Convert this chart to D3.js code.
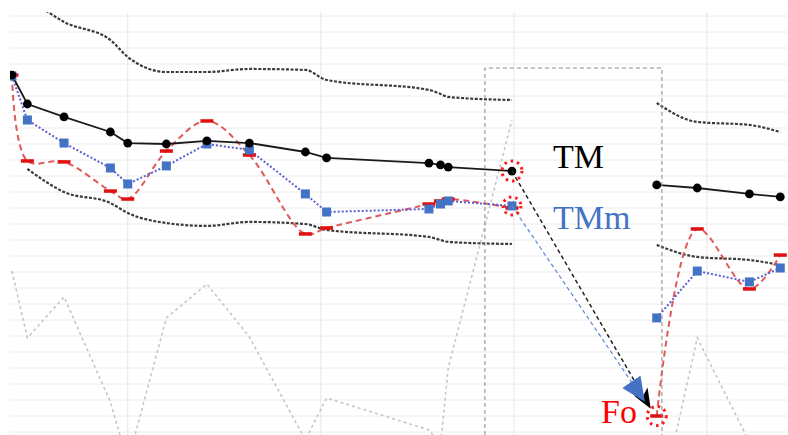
<!DOCTYPE html>
<html>
<head>
<meta charset="utf-8">
<script src="https://cdn.jsdelivr.net/npm/d3@7"></script>
<style>
  body { margin: 0; background: #fff; }
  svg { display: block; }
  .label { font-family: "Liberation Serif", "DejaVu Serif", serif; font-size: 34px; }
</style>
</head>
<body>
<script>

// x positions of the samples (gap between index 13 and 14)
var xVals = [4.0, 4.8, 6.7, 9.1, 10.0, 12.0, 14.1, 16.3, 19.2, 20.3, 25.6, 26.2, 26.6, 29.9, 37.4, 39.5, 42.2, 43.8];

// series values
var tm     = [22.31, 20.5, 19.69, 18.75, 18.06, 18.0, 18.19, 18.06, 17.5, 17.13, 16.81, 16.69, 16.56, 16.31, 15.44, 15.25, 14.88, 14.69];
var tmm    = [22.25, 19.5, 18.06, 16.5, 15.5, 16.63, 18.0, 17.63, 14.88, 13.75, 13.94, 14.25, 14.44, 14.13, 7.13, 10.06, 9.38, 10.25];
var fo     = [22.31, 16.94, 16.88, 15.06, 14.56, 17.56, 19.44, 17.31, 12.38, 12.75, 14.25, 14.44, 14.56, 14.0, 1.0, 12.69, 8.94, 11.06];
var upper  = [null, 27.19, 25.63, 24.5, 23.44, 22.5, 22.5, 22.69, 22.63, 22.0, 21.38, 21.13, 20.94, 20.75, 20.56, 19.38, 19.19, 18.75];
var lower  = [null, 16.44, 15.0, 14.31, 13.69, 13.06, 12.88, 13.13, 13.0, 12.63, 12.19, 12.0, 11.88, 11.75, 11.69, 10.94, 10.75, 10.44];
var faint  = [10.06, 5.88, 8.44, 1.88, -1.88, 7.13, 9.25, 5.94, -0.5, 2.13, 0.13, -0.81, 4.0, 19.5, -5.5, 5.88, -0.63, -1.75];

var gapAfter = 13;
var xGrid = [10, 20, 30, 40];
var yGrid = d3.range(0, 27);

var labels = ["TM", "TMm", "Fo"];

var width = 788, height = 435;

var svg = d3.select("body").append("svg")
    .attr("width", width)
    .attr("height", height);

var x = d3.scaleLinear().domain([3.9, 44.2]).range([10, 788]);
var y = d3.scaleLinear().domain([-0.2, 27]).range([435.2, 0]);

var defs = svg.append("defs");
defs.append("clipPath").attr("id", "plot")
    .append("rect").attr("x", 10).attr("y", 12).attr("width", 778).attr("height", 423);

defs.append("marker").attr("id", "headBlack")
    .attr("markerUnits", "userSpaceOnUse")
    .attr("viewBox", "0 0 20 20").attr("refX", 18).attr("refY", 10)
    .attr("markerWidth", 20).attr("markerHeight", 20)
    .attr("orient", "auto")
  .append("path").attr("d", "M0,2 L20,10 L0,18 L5,10 Z").attr("fill", "#000");

defs.append("marker").attr("id", "headBlue")
    .attr("markerUnits", "userSpaceOnUse")
    .attr("viewBox", "0 0 24 24").attr("refX", 22).attr("refY", 12)
    .attr("markerWidth", 24).attr("markerHeight", 24)
    .attr("orient", "auto")
  .append("path").attr("d", "M0,1 L24,12 L0,23 Z").attr("fill", "#4472C4");

// gridlines
var grid = svg.append("g");
grid.selectAll(".hg").data(yGrid).enter().append("line")
    .attr("x1", 10).attr("x2", width)
    .attr("y1", function(d) { return y(d); })
    .attr("y2", function(d) { return y(d); })
    .attr("stroke", "#ececec").attr("stroke-width", 1);
grid.selectAll(".vg").data(xGrid).enter().append("line")
    .attr("x1", function(d) { return x(d); })
    .attr("x2", function(d) { return x(d); })
    .attr("y1", 12).attr("y2", height)
    .attr("stroke", "#e6e6e6").attr("stroke-width", 1);

var plot = svg.append("g").attr("clip-path", "url(#plot)");

function rows(vals) {
    return vals.map(function(v, i) { return {x: xVals[i], v: v, i: i}; });
}

function segments(vals) {
    var r = rows(vals);
    return [r.slice(0, gapAfter + 1), r.slice(gapAfter + 1)];
}

function drawLine(vals, curve, color, w, dash) {
    var line = d3.line()
        .defined(function(d) { return d.v !== null; })
        .x(function(d) { return x(d.x); })
        .y(function(d) { return y(d.v); })
        .curve(curve);
    plot.append("g").selectAll("path")
        .data(segments(vals))
        .enter().append("path")
        .attr("d", line)
        .attr("fill", "none")
        .attr("stroke", color)
        .attr("stroke-width", w)
        .attr("stroke-dasharray", dash);
}

drawLine(faint, d3.curveLinear, "#c6c6c6", 1.6, "3,3");
drawLine(upper, d3.curveMonotoneX, "#3a3a3a", 2.2, "3,1.6");
drawLine(lower, d3.curveMonotoneX, "#3a3a3a", 2.2, "3,1.6");
drawLine(fo, d3.curveCatmullRom, "#e05a5a", 2, "6,4");
drawLine(tmm, d3.curveLinear, "#5a5fcf", 2, "2,2");
drawLine(tm, d3.curveLinear, "#1a1a1a", 1.8, null);

// markers
plot.append("g").selectAll("rect")
    .data(rows(fo)).enter().append("rect")
    .attr("x", function(d) { return x(d.x) - 6.5; })
    .attr("y", function(d) { return y(d.v) - 1.75; })
    .attr("width", 13).attr("height", 3.5)
    .attr("fill", "#e01010");

plot.append("g").selectAll("rect")
    .data(rows(tmm)).enter().append("rect")
    .attr("x", function(d) { return x(d.x) - 4.5; })
    .attr("y", function(d) { return y(d.v) - 4.5; })
    .attr("width", 9).attr("height", 9)
    .attr("fill", "#4472C4");

plot.append("g").selectAll("circle")
    .data(rows(tm)).enter().append("circle")
    .attr("cx", function(d) { return x(d.x); })
    .attr("cy", function(d) { return y(d.v); })
    .attr("r", 4.4)
    .attr("fill", "#000");

// dashed box around the gap
var boxX0 = 28.5, boxX1 = 37.67, boxTop = 22.75;
svg.append("path")
    .attr("d", "M" + x(boxX0) + "," + height + " V" + y(boxTop) + " H" + x(boxX1) + " V" + height)
    .attr("fill", "none")
    .attr("stroke", "#888")
    .attr("stroke-width", 1)
    .attr("stroke-dasharray", "4,3");

// arrows from TM / TMm to Fo
var a = gapAfter, b = gapAfter + 1;
svg.append("line")
    .attr("x1", x(xVals[a])).attr("y1", y(tm[a]))
    .attr("x2", x(xVals[b]) - 7).attr("y2", y(fo[b]) - 9)
    .attr("stroke", "#222").attr("stroke-width", 1.5)
    .attr("stroke-dasharray", "4,3")
    .attr("marker-end", "url(#headBlack)");
svg.append("line")
    .attr("x1", x(xVals[a])).attr("y1", y(tmm[a]))
    .attr("x2", x(xVals[b]) - 13).attr("y2", y(fo[b]) - 16)
    .attr("stroke", "#5b8ad6").attr("stroke-width", 1.2)
    .attr("stroke-dasharray", "4,3")
    .attr("marker-end", "url(#headBlue)");

// dotted red circles
var rings = [
    {x: xVals[a], v: tm[a], r: 10},
    {x: xVals[a], v: tmm[a], r: 9},
    {x: xVals[b], v: fo[b], r: 9.5}
];
svg.append("g").selectAll("circle")
    .data(rings).enter().append("circle")
    .attr("cx", function(d) { return x(d.x); })
    .attr("cy", function(d) { return y(d.v); })
    .attr("r", function(d) { return d.r; })
    .attr("fill", "none")
    .attr("stroke", "#ff1a1a")
    .attr("stroke-width", 3)
    .attr("stroke-dasharray", "2.5,4");

// labels
svg.append("text").attr("class", "label")
    .attr("x", 553).attr("y", 168)
    .attr("fill", "#000").text(labels[0]);
svg.append("text").attr("class", "label")
    .attr("x", 553).attr("y", 229)
    .attr("fill", "#4472C4").text(labels[1]);
svg.append("text").attr("class", "label")
    .attr("x", 601).attr("y", 423)
    .attr("fill", "#ff0000").text(labels[2]);

</script>
</body>
</html>
